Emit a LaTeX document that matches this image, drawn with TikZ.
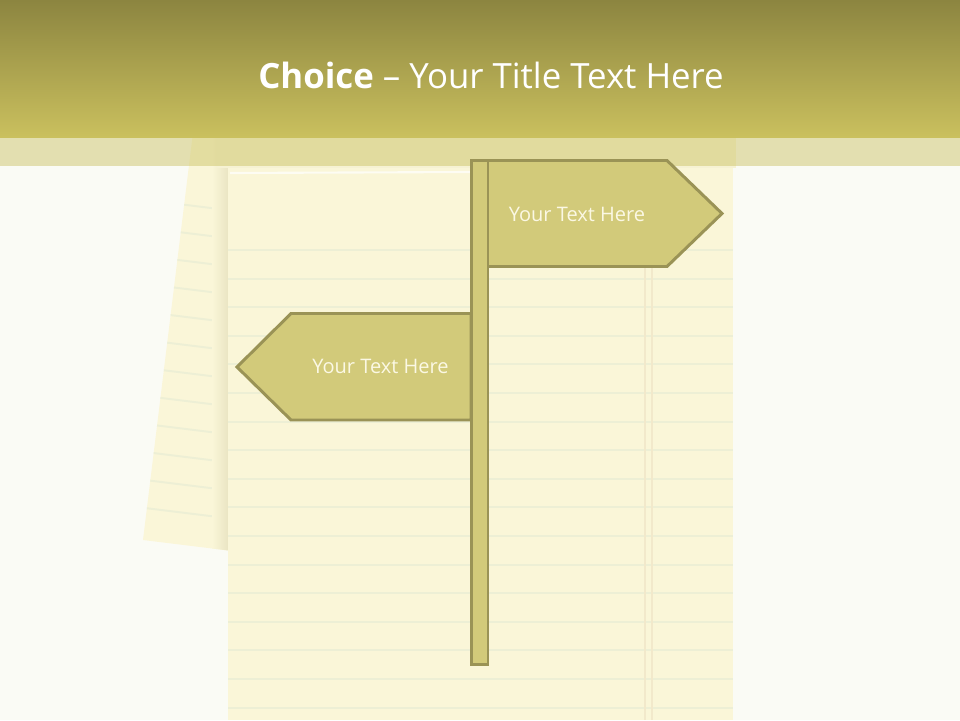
\documentclass[tikz,border=0pt]{standalone}
\usepackage{fontspec}
\setmainfont{Open Sans}
\usetikzlibrary{positioning}
\definecolor{bgwhite}{HTML}{FAFBF5}
\definecolor{titletop}{HTML}{8C8540}
\definecolor{titlebot}{HTML}{CAC05E}
\definecolor{bandcol}{HTML}{C9BF5E}
\definecolor{paper}{HTML}{FAF6D8}
\definecolor{paperdark}{HTML}{EAE5C3}
\definecolor{padtop}{HTML}{F6F2D3}
\definecolor{ruleline}{HTML}{EDEFD5}
\definecolor{marginline}{HTML}{F2E9CB}
\definecolor{signfill}{HTML}{D2CA7A}
\definecolor{signedge}{HTML}{9A9356}
\definecolor{signtext}{HTML}{FBF8E4}

\begin{document}
\begin{tikzpicture}[
    x=0.02cm, y=-0.02cm,
    rule/.style={draw=ruleline, line width=1.1pt},
    margin/.style={draw=marginline, line width=1.1pt},
    sign/.style={fill=signfill, draw=signedge, line width=1.7pt, line join=miter},
    signlabel/.style={text=signtext, anchor=base, font=\fontsize{11.4}{14}\selectfont},
    heading/.style={text=white, anchor=base, font=\fontsize{19.8}{24}\selectfont}
]
\useasboundingbox (0,0) rectangle (960,720);
\fill[bgwhite] (0,0) rectangle (960,720);

% sheet behind, tilted
\begin{scope}[shift={(143,540)}, rotate=-7]
  \fill[paper] (0,0) rectangle (200,-410);
  \foreach \k in {0,...,11}
    \draw[rule] (0,-32-27.8*\k) -- (200,-32-27.8*\k);
\end{scope}
\begin{scope}
  \clip[shift={(143,540)}, rotate=-7] (0,0) rectangle (200,-410);
  \shade[left color=paper, right color=paperdark] (212,120) rectangle (228,600);
\end{scope}

% main pad
\fill[padtop] (216,137) rectangle (736,168);
\fill[paper] (228,168) rectangle (733,720);
\draw[white!70!paper, line width=1.2pt] (230,173) -- (470,172) -- (650,171);
\foreach \k in {0,...,16}
  \draw[rule] (228,250+28.6*\k) -- (733,250+28.6*\k);
\draw[margin] (645,174) -- (645,720);
\draw[margin] (652,174) -- (652,720);

% title
\fill[bandcol, opacity=0.45] (0,137) rectangle (960,166);
\shade[top color=titletop, bottom color=titlebot] (0,0) rectangle (960,137);
\node[heading] (title) at (491,88) {\textbf{Choice} – Your Title Text Here};

% signpost
\draw[sign] (487,160.5) -- (667,160.5) -- (722,213.5) -- (667,266.5) -- (487,266.5) -- cycle;
\draw[sign] (471,313.5) -- (291,313.5) -- (237,367) -- (291,420) -- (471,420) -- cycle;
\draw[sign] (471.5,160.5) rectangle (488,664);
\node[signlabel] (upper) at (577,221) {Your Text Here};
\node[signlabel] (lower) at (380.5,373) {Your Text Here};

\end{tikzpicture}
\end{document}
